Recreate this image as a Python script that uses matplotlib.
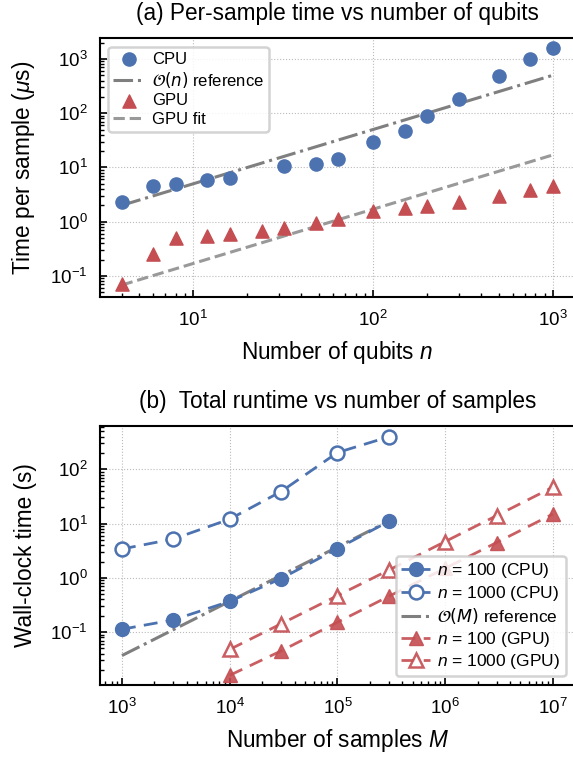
import matplotlib
matplotlib.use('Agg')
import matplotlib.pyplot as plt

# datos panel (a): tiempo por muestra vs qubits
qubits = [4, 6, 8, 12, 16, 32, 48, 64, 100, 150, 200, 300, 500, 750, 1000]
cpu_us = [2.35, 4.5, 5.0, 5.8, 6.5, 10.6, 11.5, 14.1, 30, 46, 89, 186, 480, 1000, 1620]
gpu_n = [4, 6, 8, 12, 16, 24, 32, 48, 64, 100, 150, 200, 300, 500, 750, 1000]
gpu_us = [0.072, 0.25, 0.50, 0.54, 0.59, 0.68, 0.76, 0.94, 1.12, 1.55, 1.77, 1.92, 2.28, 2.94, 3.8, 4.64]
ref_n = [4, 1000]
ref_us = [2.0, 500]
fit_n = [4, 1000]
fit_us = [0.068, 17]

# datos panel (b): tiempo total vs muestras
m_cpu = [1e3, 3e3, 1e4, 3e4, 1e5, 3e5]
cpu100 = [0.113, 0.168, 0.369, 0.97, 3.46, 11.0]
cpu1000 = [3.41, 5.2, 12.1, 39, 204, 398]
m_gpu = [1e4, 3e4, 1e5, 3e5, 1e6, 3e6, 1e7]
gpu100 = [0.016, 0.045, 0.152, 0.457, 1.5, 4.47, 15.0]
gpu1000 = [0.048, 0.142, 0.47, 1.39, 4.67, 14.0, 46.9]
ref_m = [1e3, 3e5]
ref_s = [0.037, 11.1]

azul = '#4C72B0'
rojo = '#C44E52'

plt.rcParams['font.family'] = ['Liberation Sans', 'DejaVu Sans']
plt.rcParams['mathtext.fontset'] = 'custom'
plt.rcParams['mathtext.rm'] = 'Liberation Sans'
plt.rcParams['mathtext.it'] = 'Liberation Sans:italic'

fig = plt.figure(figsize=(5.73, 7.58), dpi=100)
ax1 = fig.add_axes([0.1745, 0.6082, 0.828, 0.3413])
ax2 = fig.add_axes([0.1745, 0.0963, 0.828, 0.3417])

def estilo(ax):
    ax.set_xscale('log')
    ax.set_yscale('log')
    for s in ax.spines.values():
        s.set_linewidth(1.5)
    ax.tick_params(which='both', direction='in', labelsize=13.5, pad=9)
    ax.tick_params(which='major', length=5, width=1.2)
    ax.tick_params(which='minor', length=3, width=1.0)
    ax.grid(True, which='major', linestyle=':', color='#bbbbbb', linewidth=0.8)
    ax.set_axisbelow(True)
    ax.yaxis.set_label_coords(-0.132, 0.5)

def leyenda(ax, loc, fs, hl):
    leg = ax.legend(loc=loc, fontsize=fs, frameon=True, edgecolor='#cccccc', framealpha=0.85,
                    borderpad=0.3, labelspacing=0.2, handlelength=hl, handletextpad=0.4,
                    borderaxespad=0.5)
    leg.get_frame().set_linewidth(1.8)
    for t in leg.get_texts():
        if 'mathcal' in t.get_text():
            t.set_math_fontfamily('dejavusans')
    return leg

estilo(ax1)
ax1.scatter(qubits, cpu_us, s=90, color=azul, label='CPU', zorder=3)
ax1.plot(ref_n, ref_us, '-.', color='#7f7f7f', lw=2.2, label=r'$\mathcal{O}(n)$ reference', zorder=2)
ax1.scatter(gpu_n, gpu_us, s=90, marker='^', color=rojo, label='GPU', zorder=3)
ax1.plot(fit_n, fit_us, '--', color='#999999', lw=2.2, label='GPU fit', zorder=2)
ax1.set_xlim(3.03, 1318)
ax1.set_ylim(0.041, 2400)
ax1.set_title('(a) Per-sample time vs number of qubits', fontsize=16.3, pad=13)
ax1.set_xlabel('Number of qubits $n$', fontsize=16.3, labelpad=7)
ax1.set_ylabel(r'Time per sample ($\mu$s)', fontsize=16.3)
leyenda(ax1, 'upper left', 12, 1.9)

estilo(ax2)
ax2.plot(m_cpu, cpu100, '--o', color=azul, lw=2, ms=10, dashes=(5, 3), label='$n$ = 100 (CPU)', zorder=3)
ax2.plot(m_cpu, cpu1000, '--o', color=azul, lw=2, ms=10, mfc='white', mew=1.8, dashes=(5, 3), label='$n$ = 1000 (CPU)', zorder=3)
ax2.plot(ref_m, ref_s, '-.', color='#7f7f7f', lw=2.2, label=r'$\mathcal{O}(M)$ reference', zorder=2)
ax2.plot(m_gpu, gpu100, '--^', color=rojo, alpha=0.9, lw=2, ms=10, dashes=(5, 3), label='$n$ = 100 (GPU)', zorder=3)
ax2.plot(m_gpu, gpu1000, '--^', color=rojo, alpha=0.9, lw=2, ms=10, mfc='white', mew=1.8, dashes=(5, 3), label='$n$ = 1000 (GPU)', zorder=3)
ax2.set_xlim(10**2.796, 10**7.2)
ax2.set_ylim(0.0106, 630)
ax2.set_title('(b)  Total runtime vs number of samples', fontsize=16.3, pad=13)
ax2.set_xlabel('Number of samples $M$', fontsize=16.3, labelpad=7)
ax2.set_ylabel('Wall-clock time (s)', fontsize=16.3)
leyenda(ax2, 'lower right', 12.5, 1.7)

fig.savefig('out.png', dpi=100)
